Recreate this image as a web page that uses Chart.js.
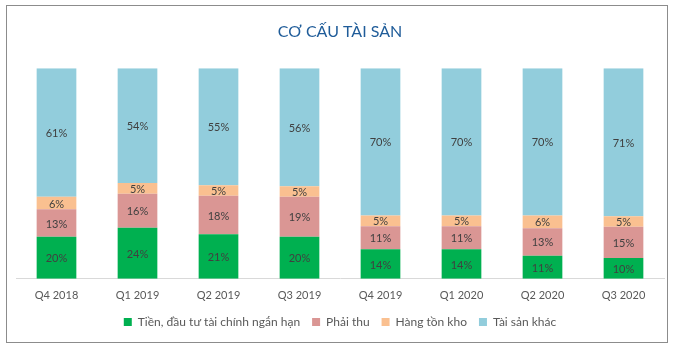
<!DOCTYPE html>
<html>
<head>
<meta charset="utf-8">
<script src="https://cdn.jsdelivr.net/npm/chart.js@4"></script>
<style>
  html, body { margin: 0; padding: 0; background: #fff; }
  #wrap { position: absolute; left: 6px; top: 5px; width: 660px; height: 336px; border: 1px solid #8c8c8c; }
  canvas { display: block; }
</style>
</head>
<body>
<div id="wrap"><canvas id="chart" width="660" height="336"></canvas></div>
<script>
// Cơ cấu tài sản theo quý (%)
const quarters = ['Q4 2018', 'Q1 2019', 'Q2 2019', 'Q3 2019', 'Q4 2019', 'Q1 2020', 'Q2 2020', 'Q3 2020'];
const tien = [20, 24, 21, 20, 14, 14, 11, 10];
const phaiThu = [13, 16, 18, 19, 11, 11, 13, 15];
const hangTonKho = [6, 5, 5, 5, 5, 5, 6, 5];
const taiSanKhac = [61, 54, 55, 56, 70, 70, 70, 71];

const seriesNames = ['Tiền, đầu tư tài chính ngắn hạn', 'Phải thu', 'Hàng tồn kho', 'Tài sản khác'];
const seriesData = [tien, phaiThu, hangTonKho, taiSanKhac];

const colors = {
  series: ['#00b050', '#da9694', '#fac090', '#92cddc'],
  text: '#595959',
  label: '#404040',
  title: '#1f5c99',
  axis: '#d9d9d9'
};

const fontFamily = 'Lato, "Open Sans", sans-serif';

// 100% stacked: each column scaled to its own total
const totals = quarters.map((q, i) => seriesData.reduce((s, arr) => s + arr[i], 0));

// draw the raw percentage in the middle of each segment
const segmentLabels = {
  id: 'segmentLabels',
  afterDatasetsDraw(chart) {
    const ctx = chart.ctx;
    ctx.save();
    ctx.font = '11px ' + fontFamily;
    ctx.fillStyle = colors.label;
    ctx.textAlign = 'center';
    ctx.textBaseline = 'middle';
    chart.data.datasets.forEach((ds, di) => {
      chart.getDatasetMeta(di).data.forEach((bar, i) => {
        const mid = (bar.y + bar.base) / 2;
        ctx.fillText(ds.raw[i] + '%', bar.x, mid + 1);
      });
    });
    ctx.restore();
  }
};

new Chart(document.getElementById('chart').getContext('2d'), {
  type: 'bar',
  data: {
    labels: quarters,
    datasets: seriesNames.map((name, k) => ({
      label: name,
      raw: seriesData[k],
      data: seriesData[k].map((v, i) => v / totals[i] * 100),
      backgroundColor: colors.series[k],
      borderWidth: 0,
      categoryPercentage: 1,
      barPercentage: 0.49
    }))
  },
  options: {
    responsive: false,
    animation: false,
    layout: { padding: { left: 9, right: 3, top: 0, bottom: 4 } },
    scales: {
      x: {
        stacked: true,
        grid: { display: false },
        border: { color: colors.axis },
        ticks: { color: colors.text, font: { family: fontFamily, size: 11 }, padding: 2 }
      },
      y: { stacked: true, display: false, min: 0, max: 100 }
    },
    plugins: {
      title: {
        display: true,
        text: 'CƠ CẤU TÀI SẢN',
        color: colors.title,
        font: { family: fontFamily, size: 16, weight: 'normal' },
        padding: { top: 16, bottom: 27 }
      },
      legend: {
        position: 'bottom',
        labels: { color: colors.text, boxWidth: 8, boxHeight: 8, padding: 12, font: { family: fontFamily, size: 12 } }
      },
      tooltip: { enabled: false }
    }
  },
  plugins: [segmentLabels]
});
</script>
</body>
</html>
